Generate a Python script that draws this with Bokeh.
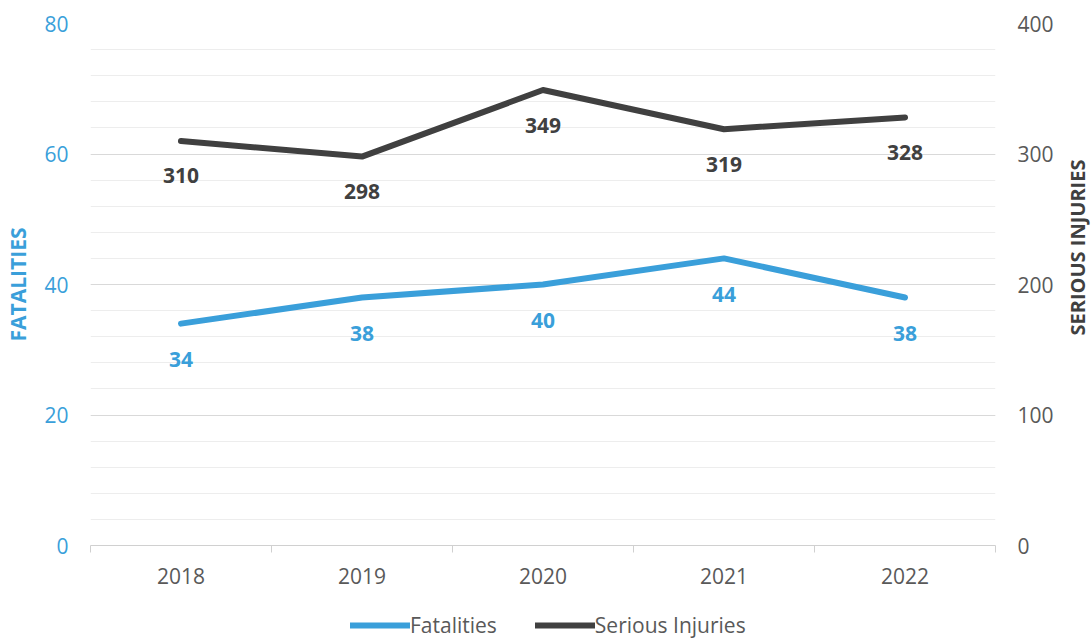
import math
from bokeh.plotting import figure
from bokeh.layouts import row, column
from bokeh.core.properties import value
from bokeh.models import (LinearAxis, Range1d, FixedTicker, SingleIntervalTicker,
                          LabelSet, Label, ColumnDataSource, Legend, LegendItem)
from bokeh.embed import file_html
from bokeh.resources import INLINE

years = [2018, 2019, 2020, 2021, 2022]
fatalities = [34, 38, 40, 44, 38]
serious_injuries = [310, 298, 349, 319, 328]
series_names = ["Fatalities", "Serious Injuries"]
left_title = "FATALITIES"
right_title = "SERIOUS INJURIES"

BLUE = "#3A9FDA"
DARK = "#404040"
GREY = "#595959"
FONT = "Open Sans"

src = ColumnDataSource(dict(x=years, f=fatalities, s=serious_injuries,
                            fl=[str(v) for v in fatalities],
                            sl=[str(v) for v in serious_injuries]))

# ---------------- main chart ----------------
p = figure(width=1062, height=609, x_range=Range1d(years[0] - 0.5, years[-1] + 0.5),
           y_range=Range1d(0, 80), output_backend="svg", toolbar_location=None,
           min_border_left=90, min_border_top=23, min_border_right=67, min_border_bottom=64)
p.outline_line_color = None
p.background_fill_color = "white"
p.xgrid.visible = False
p.extra_y_ranges = {"inj": Range1d(0, 400)}

ya = p.yaxis[0]
ya.ticker = SingleIntervalTicker(interval=20, num_minor_ticks=5)
ya.axis_line_color = None
ya.major_tick_line_color = None
ya.minor_tick_line_color = None
ya.major_tick_out = 0
ya.major_tick_in = 0
ya.minor_tick_out = 0
ya.minor_tick_in = 0
ya.major_label_standoff = 22
ya.major_label_text_color = BLUE
ya.major_label_text_font = FONT
ya.major_label_text_font_size = "21px"
ya.axis_label = left_title
ya.axis_label_text_color = BLUE
ya.axis_label_text_font = FONT
ya.axis_label_text_font_style = "bold"
ya.axis_label_text_font_size = "21px"
ya.axis_label_standoff = 9

p.ygrid.grid_line_color = "#d9d9d9"
p.ygrid.minor_grid_line_color = "#ededed"

ra = LinearAxis(y_range_name="inj", ticker=SingleIntervalTicker(interval=100))
ra.axis_line_color = None
ra.major_tick_line_color = None
ra.minor_tick_line_color = None
ra.major_tick_out = 0
ra.major_tick_in = 0
ra.minor_tick_out = 0
ra.minor_tick_in = 0
ra.major_label_standoff = 22
ra.major_label_text_color = GREY
ra.major_label_text_font = FONT
ra.major_label_text_font_size = "21px"
p.add_layout(ra, "right")

xa = p.xaxis[0]
xa.ticker = FixedTicker(ticks=years,
                        minor_ticks=[y - 0.5 for y in years] + [years[-1] + 0.5])
xa.axis_line_color = "#d0d0d0"
xa.major_tick_line_color = None
xa.major_tick_out = 0
xa.major_tick_in = 0
xa.minor_tick_line_color = "#d0d0d0"
xa.minor_tick_out = 7
xa.minor_tick_in = 0
xa.major_label_standoff = 15
xa.major_label_text_color = GREY
xa.major_label_text_font = FONT
xa.major_label_text_font_size = "21px"

r1 = p.line("x", "f", source=src, line_color=BLUE, line_width=6, line_cap="round", line_join="round")
r2 = p.line("x", "s", source=src, y_range_name="inj", line_color=DARK, line_width=6,
            line_cap="round", line_join="round")

p.add_layout(LabelSet(x="x", y="f", text="fl", source=src, y_offset=-36, text_align="center",
                      text_baseline="middle", text_color=BLUE, text_font=value(FONT),
                      text_font_style="bold", text_font_size="21px"))
p.add_layout(LabelSet(x="x", y="s", text="sl", source=src, y_range_name="inj", y_offset=-35,
                      text_align="center", text_baseline="middle", text_color=DARK,
                      text_font=value(FONT), text_font_style="bold", text_font_size="21px"))

# ---------------- right axis title ----------------
rt = figure(width=30, height=609, x_range=Range1d(0, 1), y_range=Range1d(0, 1),
            output_backend="svg", toolbar_location=None, x_axis_type=None, y_axis_type=None,
            min_border=0)
rt.outline_line_color = None
rt.grid.visible = False
rt.add_layout(Label(x=15, y=210, x_units="screen", y_units="screen", text=right_title,
                    angle=math.pi / 2, text_align="left", text_baseline="middle",
                    text_color=DARK, text_font=FONT, text_font_style="bold",
                    text_font_size="20px"))

# ---------------- legend ----------------
lf = figure(width=1092, height=30, x_range=Range1d(0, 1), y_range=Range1d(0, 1),
            output_backend="svg", toolbar_location=None, x_axis_type=None, y_axis_type=None,
            min_border=0)
lf.outline_line_color = None
lf.grid.visible = False
# legend-only renderers: their data lies outside this strip's ranges, so only the legend shows
l1 = lf.line(x=years, y=fatalities, line_color=BLUE, line_width=6, line_cap="round")
l2 = lf.line(x=years, y=serious_injuries, line_color=DARK, line_width=6, line_cap="round")
legend = Legend(items=[LegendItem(label=series_names[0], renderers=[l1]),
                       LegendItem(label=series_names[1], renderers=[l2])],
                orientation="horizontal", location=(350, 0), glyph_width=60, glyph_height=20,
                label_standoff=0, spacing=38, padding=0, margin=0, border_line_color=None,
                background_fill_alpha=0, label_text_font=FONT, label_text_font_size="21px",
                label_text_color=GREY)
lf.add_layout(legend, "center")

layout = column(row(p, rt), lf)
open("out.html", "w").write(file_html(layout, INLINE))
